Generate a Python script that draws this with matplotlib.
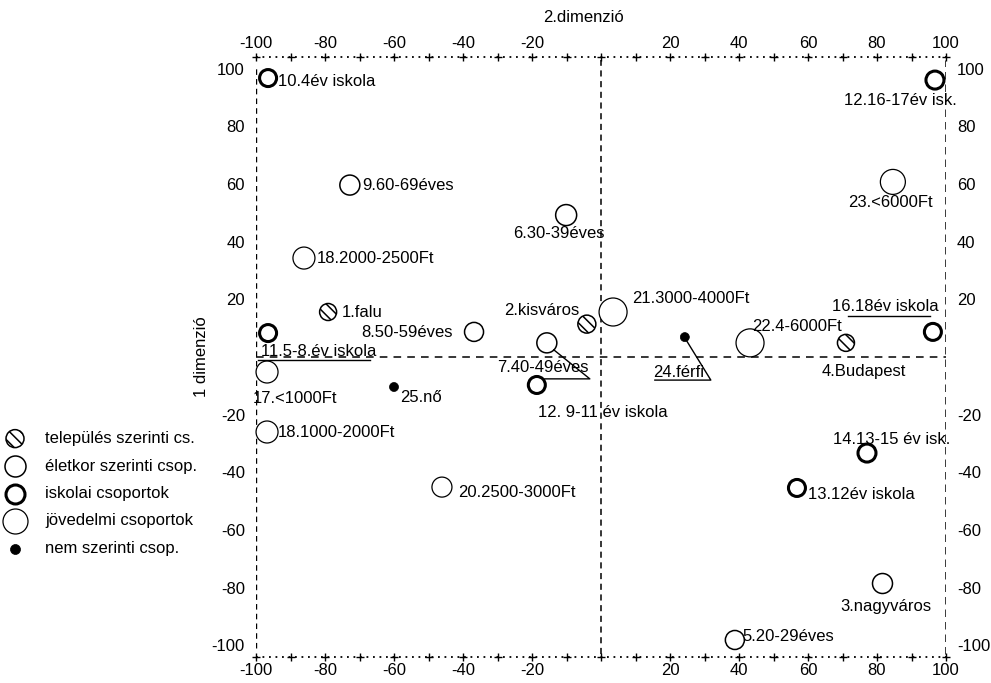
import matplotlib
matplotlib.use("Agg")
import matplotlib.pyplot as plt
import matplotlib.transforms as mtransforms
from matplotlib.legend_handler import HandlerPathCollection
import numpy as np

plt.rcParams['font.family'] = ['Liberation Sans', 'DejaVu Sans']
plt.rcParams['hatch.linewidth'] = 1.1

# ---------------- data ----------------
labels = ["10.4év iskola", "12.16-17év isk.", "9.60-69éves", "6.30-39éves",
          "23.<6000Ft", "18.2000-2500Ft", "1.falu", "2.kisváros",
          "21.3000-4000Ft", "8.50-59éves", "11.5-8.év iskola", "7.40-49éves",
          "17.<1000Ft", "25.nő", "12. 9-11 év iskola", "18.1000-2000Ft",
          "24.férfi", "22.4-6000Ft", "4.Budapest", "16.18év iskola",
          "14.13-15 év isk.", "13.12év iskola", "20.2500-3000Ft",
          "3.nagyváros", "5.20-29éves"]
dim2 = [-96.5, 96.8, -72.8, -10.1, 84.6, -86.1, -79.1, -4.1, 3.5, -36.8,
        -96.5, -15.7, -96.8, -60.0, -18.6, -96.8, 24.3, 43.2, 71.0, 96.2,
        77.1, 56.8, -46.1, 81.4, 38.8]
dim1 = [96.7, 96.0, 59.6, 49.2, 60.7, 34.3, 15.6, 11.4, 15.6, 8.7,
        8.3, 4.9, -5.2, -10.4, -9.7, -26.0, 6.9, 4.9, 4.9, 8.7,
        -33.3, -45.4, -45.1, -78.3, -98.1]
group = ["isk", "isk", "elet", "elet", "jov", "jov", "tel", "tel",
         "jov", "elet", "isk", "elet", "jov", "nem", "isk", "jov",
         "nem", "jov", "tel", "isk", "isk", "isk", "jov", "tel0", "elet"]

group_names = {"tel": "település szerinti cs.",
               "elet": "életkor szerinti csop.",
               "isk": "iskolai csoportok",
               "jov": "jövedelmi csoportok",
               "nem": "nem szerinti csop."}

x_ticks = [-100, -80, -60, -40, -20, 20, 40, 60, 80, 100]
y_ticks = [100, 80, 60, 40, 20, -20, -40, -60, -80, -100]
x_title = "2.dimenzió"
y_title = "1 dimenzió"

# ---------------- styles / layout ----------------
marker_px = [17, 18, 20, 21, 25, 22, 17, 18, 28, 19, 17, 20, 22, 9, 17, 22,
             9, 28, 17, 17, 18, 17, 20, 20, 19]
# label offsets in pixels (dx right, dy down) and horizontal alignment
label_pos = [(10, 3, 'left'), (-35, 20, 'center'), (12, 0, 'left'), (-7, 18, 'center'),
             (-2, 21, 'center'), (13, 0, 'left'), (14, 0, 'left'), (-7, -14, 'right'),
             (19, -14, 'left'), (-21, 1, 'right'), (-7, 18, 'left'), (-50, 25, 'left'),
             (-14, 26, 'left'), (6, 10, 'left'), (1, 28, 'left'), (11, 0, 'left'),
             (-32, 35, 'left'), (2, -16, 'left'), (18, 29, 'center'), (-48, -25, 'center'),
             (25, -14, 'center'), (11, 7, 'left'), (16, 5, 'left'),
             (4, 24, 'center'), (8, -3, 'left')]
# leader lines (pixel offsets from the point)
leaders = {11: [(7, 7), (43, 36), (-2, 36)],
           16: [(2, 4), (26, 43), (-30, 43)],
           19: [(-85, -16), (-3, -16)],
           10: [(-10, 27), (102, 27)]}

styles = {"tel": dict(facecolors='white', edgecolors='black', linewidths=1.1, hatch='\\\\\\'),
          "tel0": dict(facecolors='white', edgecolors='black', linewidths=1.1),
          "elet": dict(facecolors='white', edgecolors='black', linewidths=1.1),
          "isk": dict(facecolors='white', edgecolors='black', linewidths=2.2),
          "jov": dict(facecolors='white', edgecolors='black', linewidths=0.9),
          "nem": dict(facecolors='black', edgecolors='black', linewidths=0.5)}
legend_px = {"tel": 18, "elet": 21, "isk": 19, "jov": 25, "nem": 10}

FS = 12
W, H = 991, 683
fig = plt.figure(figsize=(W / 100, H / 100), dpi=100)
fig.patch.set_facecolor('white')
ax = fig.add_axes([256 / W, 1 - 657 / H, 690 / W, 600 / H])
ax.set_xlim(-100, 100)
ax.set_ylim(-104, 104)
for s in ax.spines.values():
    s.set_visible(False)

ax.set_xticks(x_ticks)
ax.set_xticklabels([str(v) for v in x_ticks])
ax.set_yticks(y_ticks)
ax.set_yticklabels([str(v) for v in y_ticks])
ax.tick_params(axis='x', length=0, top=True, labeltop=True, bottom=True,
               labelbottom=True, pad=4, labelsize=FS)
ax.tick_params(axis='y', length=0, left=True, labelleft=True, right=True,
               labelright=True, pad=8, labelsize=FS)

# frame: dotted rows with + marks, dashed verticals
plus = np.arange(-100, 101, 10)
for yy in (-104, 104):
    ax.plot([-100, 100], [yy, yy], ls=(0, (1, 2.6)), lw=1.3, color='black', clip_on=False)
    ax.plot(plus, [yy] * len(plus), ls='none', marker='+', ms=6, mew=1.0,
            color='black', clip_on=False)
ax.plot([-100, -100], [-101, 101], ls=(0, (4, 3)), lw=1.0, color='black')
ax.plot([0, 0], [-103, 103], ls=(0, (4, 3)), lw=1.1, color='black')
ax.plot([100, 100], [-103, 103], ls=(0, (3, 2)), lw=1.8, color='black')
ax.plot([-100, 100], [0, 0], ls=(0, (5, 4)), lw=1.1, color='black')

# points
handles = {}
for g in ["tel", "elet", "isk", "jov", "nem", "tel0"]:
    idx = [i for i, gg in enumerate(group) if gg == g]
    sz = [(marker_px[i] * 0.72) ** 2 for i in idx]
    sc = ax.scatter([dim2[i] for i in idx], [dim1[i] for i in idx], s=sz,
                    marker='o', zorder=5, clip_on=False,
                    label=group_names.get(g, '_nolegend_'), **styles[g])
    handles[g] = sc

# labels
for i, lab in enumerate(labels):
    dx, dy, ha = label_pos[i]
    ax.annotate(lab, (dim2[i], dim1[i]), xytext=(dx * 0.72, -dy * 0.72),
                textcoords='offset points', ha=ha, va='center', fontsize=FS,
                zorder=6, annotation_clip=False)

# leader lines
for i, pts in leaders.items():
    tr = mtransforms.Affine2D().scale(fig.dpi / 100) + \
        mtransforms.ScaledTranslation(dim2[i], dim1[i], ax.transData)
    ax.plot([p[0] for p in pts], [-p[1] for p in pts], color='black', lw=1.0,
            transform=tr, clip_on=False, zorder=6)

# titles
ax.text((583 - 256) / 690, (657 - 17) / 600, x_title, transform=ax.transAxes,
        ha='center', va='center', fontsize=FS)
ax.text((202 - 256) / 690, 0.5, y_title, transform=ax.transAxes, rotation=90,
        ha='center', va='center', fontsize=FS)

# legend
order = ["tel", "elet", "isk", "jov", "nem"]
hmap = {handles[g]: HandlerPathCollection(sizes=[(legend_px[g] * 0.72) ** 2])
        for g in order}
leg = fig.legend([handles[g] for g in order], [group_names[g] for g in order],
                 loc='upper left', bbox_to_anchor=(0 / W, 1 - 431 / H),
                 frameon=False, fontsize=FS, handlelength=1.8, handletextpad=0.9,
                 labelspacing=0.75, borderpad=0, borderaxespad=0, scatterpoints=1,
                 handler_map=hmap)

fig.savefig("out.png", dpi=100, facecolor='white')
